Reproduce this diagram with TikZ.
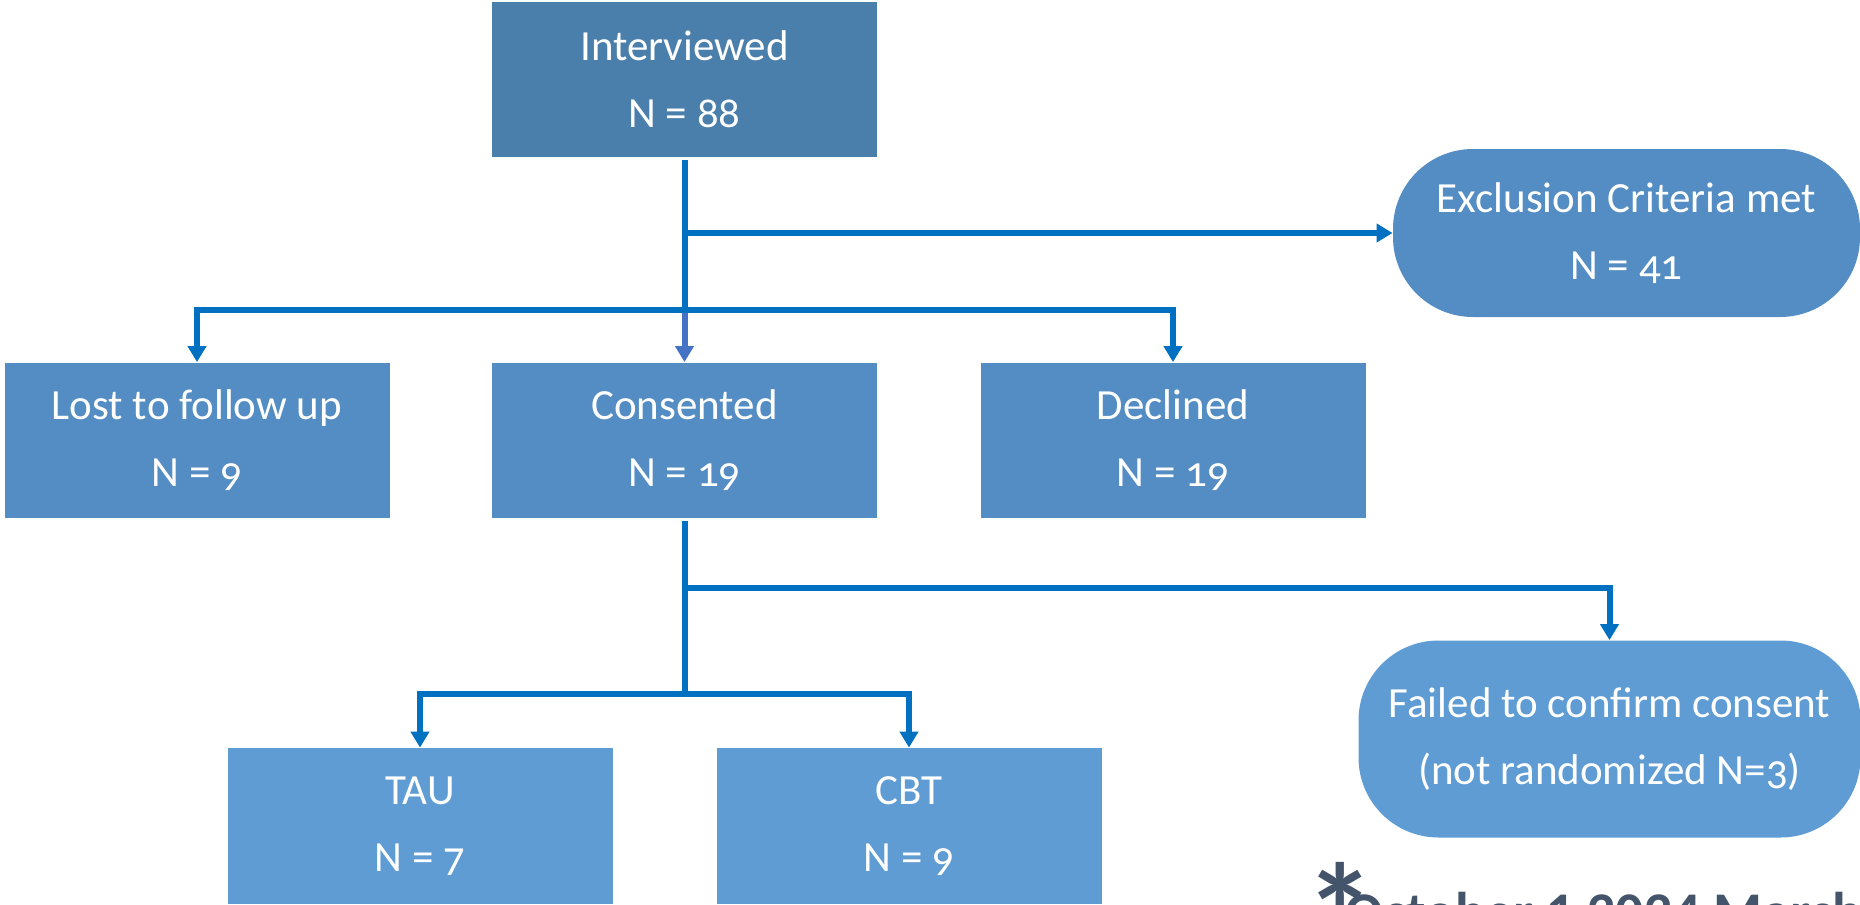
\documentclass[tikz,border=0pt]{standalone}
\usepackage{fontspec}
\setmainfont{Carlito}[Numbers=OldStyle]
\newfontfamily\notefont{Carlito}[Numbers=Lining]
\usetikzlibrary{arrows.meta}
\definecolor{cdark}{HTML}{4A7EAB}
\definecolor{cmid}{HTML}{548DC3}
\definecolor{clight}{HTML}{5F9CD4}
\definecolor{cline}{HTML}{0070C0}
\definecolor{carrow}{HTML}{4472C4}
\definecolor{cnote}{HTML}{44546A}
\begin{document}
\begin{tikzpicture}[x=0.5pt,y=-0.5pt,
  box/.style={minimum width=192.5pt, minimum height=77.5pt, inner sep=0pt, text=white, align=center,
    font=\fontsize{21.5}{33.5}\selectfont},
  darkbox/.style={box, fill=cdark},
  midbox/.style={box, fill=cmid},
  lightbox/.style={box, fill=clight},
  pill/.style={box, rounded corners=40pt},
  wire/.style={draw=cline, line width=3pt},
  conn/.style={wire, -{Triangle[length=8pt,width=9pt]}},
]
\useasboundingbox (0,0) rectangle (1860,905);
\clip (0,0) rectangle (1860,905);
\fill[white] (0,0) rectangle (1860,905);

\node[darkbox] (int) at (684.5,79.5) {Interviewed\\N = 88};
\node[midbox] (lost) at (197,440) {Lost to follow up\\N = 9};
\node[midbox] (cons) at (684.5,440) {Consented\\N = 19};
\node[midbox] (decl) at (1173,440) {Declined\\N = 19};
\node[midbox, pill, minimum width=233.5pt, minimum height=84pt] (excl) at (1626.5,233) {Exclusion Criteria met\\N = 41};
\node[lightbox, pill, minimum width=251pt, minimum height=98.5pt] (fail) at (1609.5,739) {Failed to confirm consent\\(not randomized N=3)};
\node[lightbox, minimum height=78pt] (tau) at (420,826) {TAU\\N = 7};
\node[lightbox, minimum height=78pt] (cbt) at (909,826) {CBT\\N = 9};

\coordinate (j1) at (684.5,233);
\coordinate (j2) at (684.5,310);
\coordinate (j3) at (684.5,588);
\coordinate (j4) at (684.5,694);

\draw[wire] ([yshift=-1.5pt]int.south) -- (j2);
\draw[conn] (j1) -- (excl.west);
\draw[conn] (j2) -| (lost.north);
\draw[conn] (j2) -| (decl.north);
\draw[conn, draw=carrow, -{Triangle[length=8pt,width=9pt,fill=carrow]}] ([yshift=-1.5pt]j2) -- (cons.north);

\draw[wire] ([yshift=-1.5pt]cons.south) -- (j4);
\draw[conn] (j3) -| (fail.north);
\draw[conn] (j4) -| (tau.north);
\draw[conn] (j4) -| (cbt.north);

\node[anchor=base west, inner sep=0pt, text=cnote, font=\notefont\bfseries\fontsize{28}{32}\selectfont] (note) at (1345,931) {October 1 2024 March};
\node[anchor=north west, inner sep=0pt, text=cnote, font=\notefont\bfseries\fontsize{70}{70}\selectfont] (ast) at (1305,862) {*};
\end{tikzpicture}
\end{document}
